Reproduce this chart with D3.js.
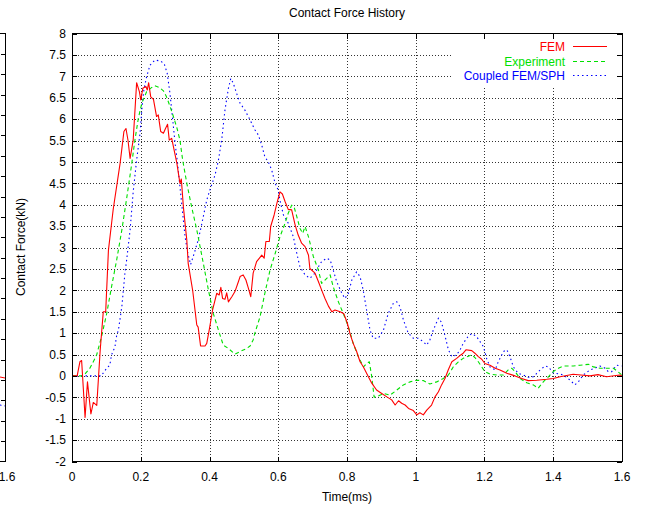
<!DOCTYPE html>
<html>
<head>
<meta charset="utf-8">
<script src="https://cdn.jsdelivr.net/npm/d3@7"></script>
<style>
  html, body { margin: 0; padding: 0; background: #fff; }
  svg { display: block; }
  text { font-family: "Liberation Sans", Arial, Helvetica, sans-serif; }
</style>
</head>
<body>
<svg id="chart" width="648" height="506"></svg>
<script>
// ---------- DATA ----------
const chartTitle = "Contact Force History";
const xLabel = "Time(ms)";
const yLabel = "Contact Force(kN)";
const xTicks = [0, 0.2, 0.4, 0.6, 0.8, 1, 1.2, 1.4, 1.6];
const yTicks = [-2, -1.5, -1, -0.5, 0, 0.5, 1, 1.5, 2, 2.5, 3, 3.5, 4, 4.5, 5, 5.5, 6, 6.5, 7, 7.5, 8];
const seriesNames = ["FEM", "Experiment", "Coupled FEM/SPH"];

const femTime = [0,0.015,0.023,0.028,0.038,0.045,0.055,0.062,0.072,0.082,0.091,0.098,0.106,0.12,0.14,0.151,0.157,0.163,0.169,0.178,0.188,0.196,0.2,0.206,0.215,0.219,0.223,0.229,0.237,0.246,0.251,0.258,0.266,0.272,0.278,0.283,0.29,0.305,0.314,0.318,0.324,0.334,0.338,0.351,0.363,0.367,0.374,0.387,0.392,0.4,0.409,0.421,0.428,0.433,0.438,0.445,0.45,0.455,0.465,0.474,0.484,0.489,0.498,0.506,0.513,0.52,0.527,0.537,0.547,0.552,0.559,0.564,0.574,0.578,0.588,0.596,0.605,0.612,0.62,0.629,0.639,0.649,0.658,0.668,0.678,0.688,0.692,0.707,0.717,0.726,0.736,0.746,0.756,0.765,0.78,0.791,0.801,0.809,0.818,0.828,0.838,0.847,0.857,0.872,0.886,0.901,0.916,0.93,0.94,0.95,0.959,0.969,0.979,0.993,1.003,1.012,1.022,1.032,1.046,1.056,1.066,1.075,1.085,1.095,1.105,1.119,1.131,1.138,1.146,1.163,1.172,1.182,1.192,1.201,1.216,1.231,1.245,1.265,1.289,1.308,1.327,1.352,1.381,1.4,1.42,1.458,1.48,1.507,1.53,1.555,1.594,1.6];
const femForce = [0,0,0.33,0.36,-0.97,-0.14,-0.89,-0.62,-0.69,0.6,1.5,1.5,2.94,3.9,4.97,5.71,5.78,5.5,5.08,5.51,6.85,6.64,6.45,6.72,6.76,6.68,6.85,6.52,6.46,6.06,6.1,5.71,5.67,5.78,5.88,5.51,5.55,4.97,4.5,4.6,3.95,3.17,2.63,2.0,1.19,1.14,0.7,0.7,0.76,1.11,1.54,1.93,1.89,2.07,1.81,1.79,1.94,1.73,1.85,1.97,2.2,2.32,2.36,2.24,2.05,1.85,2.4,2.67,2.77,2.82,2.75,3.14,3.14,3.49,3.76,4.03,4.3,4.25,4.07,3.89,3.88,3.53,3.29,3.1,3.02,2.82,2.51,2.4,2.2,2.01,1.81,1.63,1.5,1.54,1.5,1.45,1.23,0.98,0.76,0.57,0.33,0.22,0.06,-0.17,-0.33,-0.41,-0.49,-0.56,-0.68,-0.58,-0.64,-0.68,-0.76,-0.81,-0.91,-0.86,-0.91,-0.8,-0.68,-0.49,-0.37,-0.21,-0.06,0.15,0.33,0.41,0.49,0.53,0.61,0.59,0.53,0.45,0.39,0.29,0.25,0.18,0.14,0.06,0,-0.06,-0.11,-0.1,-0.08,-0.06,-0.02,0.04,0.02,0,0.03,-0.02,0.02,0];

const expTime = [0,0.033,0.052,0.067,0.072,0.086,0.101,0.115,0.13,0.145,0.16,0.174,0.183,0.193,0.203,0.217,0.232,0.241,0.254,0.266,0.275,0.285,0.295,0.305,0.314,0.322,0.334,0.348,0.363,0.367,0.382,0.397,0.411,0.426,0.44,0.455,0.474,0.489,0.508,0.518,0.527,0.532,0.547,0.561,0.576,0.591,0.605,0.62,0.629,0.639,0.646,0.654,0.663,0.671,0.678,0.688,0.702,0.717,0.726,0.736,0.751,0.76,0.775,0.789,0.804,0.818,0.833,0.848,0.857,0.865,0.872,0.879,0.891,0.906,0.925,0.945,0.964,0.983,1.003,1.022,1.041,1.061,1.08,1.095,1.109,1.124,1.138,1.153,1.163,1.172,1.182,1.192,1.201,1.216,1.236,1.255,1.269,1.279,1.289,1.303,1.323,1.342,1.356,1.371,1.386,1.4,1.415,1.43,1.458,1.478,1.502,1.517,1.536,1.575,1.6];
const expForce = [0,0,0.18,0.41,0.5,0.92,1.46,2.08,2.71,3.41,4.2,4.97,5.51,6.02,6.37,6.64,6.74,6.78,6.74,6.66,6.52,6.3,6.06,5.8,5.51,5.04,4.5,3.95,3.41,3.25,2.63,2.0,1.46,1.07,0.72,0.64,0.51,0.57,0.64,0.7,0.84,1.0,1.38,1.93,2.47,2.86,3.25,3.57,3.8,3.99,3.95,3.72,3.45,3.33,3.49,3.25,2.79,2.47,2.16,2.24,2.36,2.08,1.73,1.46,1.15,0.76,0.45,0.21,0.29,0.33,-0.02,-0.5,-0.47,-0.41,-0.45,-0.33,-0.21,-0.14,-0.1,-0.11,-0.19,-0.14,-0.06,0.02,0.21,0.33,0.41,0.46,0.49,0.43,0.33,0.21,0.1,0.04,0.02,0.02,0.14,0.18,0.1,-0.06,-0.16,-0.21,-0.29,-0.14,-0.02,0.1,0.18,0.23,0.23,0.25,0.27,0.21,0.18,0.18,0.02];

const sphTime = [0,0.085,0.101,0.11,0.115,0.125,0.13,0.135,0.145,0.154,0.159,0.169,0.178,0.188,0.198,0.203,0.209,0.217,0.227,0.241,0.256,0.268,0.277,0.285,0.293,0.3,0.307,0.316,0.324,0.329,0.336,0.345,0.355,0.367,0.377,0.392,0.401,0.416,0.426,0.436,0.445,0.455,0.462,0.469,0.479,0.489,0.503,0.518,0.532,0.542,0.552,0.561,0.571,0.581,0.591,0.6,0.605,0.615,0.629,0.644,0.654,0.663,0.678,0.692,0.707,0.717,0.726,0.741,0.751,0.76,0.77,0.785,0.794,0.804,0.814,0.828,0.838,0.847,0.857,0.867,0.876,0.891,0.906,0.92,0.935,0.945,0.954,0.964,0.978,0.993,1.007,1.022,1.032,1.041,1.051,1.066,1.075,1.085,1.095,1.105,1.119,1.129,1.138,1.153,1.163,1.177,1.187,1.197,1.206,1.216,1.231,1.24,1.255,1.265,1.274,1.284,1.298,1.313,1.327,1.342,1.352,1.362,1.376,1.386,1.4,1.415,1.43,1.449,1.463,1.473,1.487,1.507,1.521,1.536,1.551,1.56,1.57,1.584,1.599];
const sphForce = [0,0,0.18,0.25,0.49,0.68,0.95,1.07,1.62,2.4,2.71,3.41,4.3,5.04,5.67,6.21,6.68,6.99,7.26,7.38,7.36,7.3,7.07,6.6,5.98,5.43,4.97,4.27,3.64,3.25,2.9,2.6,2.85,3.17,3.53,4.11,4.34,4.69,5.04,5.55,6.21,6.72,6.95,6.84,6.6,6.37,6.21,5.98,5.75,5.63,5.39,5.12,5.0,4.81,4.5,4.34,4.1,3.76,3.57,3.25,2.86,2.55,2.36,2.28,2.4,2.55,2.67,2.75,2.71,2.47,2.2,1.93,1.81,1.93,2.24,2.43,2.32,2.01,1.54,1.07,0.88,0.88,1.07,1.46,1.7,1.73,1.62,1.31,1.0,0.88,0.88,0.8,0.72,0.84,1.07,1.35,1.25,0.94,0.61,0.45,0.49,0.61,0.76,0.93,0.99,0.92,0.8,0.68,0.41,0.21,0.14,0.33,0.57,0.61,0.45,0.21,0.06,0.02,-0.03,-0.02,0.06,0.14,0.23,0.21,0.07,0.05,0.02,-0.1,-0.21,-0.14,0.02,0.14,0.18,0.23,0.18,0.1,0.1,0.25,0.23];

// fragment of neighbouring chart at left edge
const fragTickCount = 21;
const fragLabel = "1.6";

// ---------- LAYOUT ----------
const svg = d3.select("#chart");
const L = 72, R = 622, T = 33.5, B = 461.5;
const x = d3.scaleLinear().domain([0, 1.6]).range([L, R]);
const y = d3.scaleLinear().domain([-2, 8]).range([B, T]);

const colors = ["#ff0000", "#00e000", "#0000ff"];
const dashes = [null, "4,3", "1.5,3"];

// ---------- GRID ----------
const grid = svg.append("g").attr("stroke", "#333").attr("stroke-width", 1)
  .attr("stroke-dasharray", "1,2").attr("shape-rendering", "crispEdges");
xTicks.slice(1, -1).forEach(v => {
  grid.append("line").attr("x1", Math.round(x(v)) + 0.5).attr("x2", Math.round(x(v)) + 0.5)
    .attr("y1", T).attr("y2", B);
});
yTicks.slice(1, -1).forEach(v => {
  grid.append("line").attr("y1", Math.round(y(v)) + 0.5).attr("y2", Math.round(y(v)) + 0.5)
    .attr("x1", L).attr("x2", R);
});

// ---------- SERIES ----------
const line = d3.line().x(d => x(d[0])).y(d => y(d[1]));
const series = [
  d3.zip(femTime, femForce),
  d3.zip(expTime, expForce),
  d3.zip(sphTime, sphForce)
];
const drawOrder = [2, 1, 0];
drawOrder.forEach(i => {
  svg.append("path").datum(series[i]).attr("d", line)
    .attr("fill", "none").attr("stroke", colors[i]).attr("stroke-width", 1.1)
    .attr("stroke-dasharray", dashes[i]).attr("stroke-linejoin", "round");
});

// ---------- LEGEND ----------
svg.append("rect").attr("x", 453).attr("y", T + 1).attr("width", R - 453 - 1).attr("height", 86 - T - 1).attr("fill", "#fff");
const legY = [46.5, 61.5, 75.5];
seriesNames.forEach((n, i) => {
  svg.append("text").attr("x", 565).attr("y", legY[i]).attr("dy", "0.35em")
    .attr("text-anchor", "end").attr("font-size", 12).attr("fill", colors[i]).text(n);
  svg.append("line").attr("x1", 573).attr("x2", 607).attr("y1", legY[i]).attr("y2", legY[i])
    .attr("stroke", colors[i]).attr("stroke-width", 1.1).attr("stroke-dasharray", dashes[i]);
});

// ---------- AXES / BORDER ----------
const ax = svg.append("g").attr("stroke", "#000").attr("stroke-width", 1).attr("shape-rendering", "crispEdges");
ax.append("rect").attr("x", L).attr("y", T).attr("width", R - L).attr("height", B - T).attr("fill", "none");
const tl = 5;
xTicks.forEach(v => {
  const px = Math.round(x(v)) + 0.5;
  ax.append("line").attr("x1", px).attr("x2", px).attr("y1", B).attr("y2", B - tl);
  ax.append("line").attr("x1", px).attr("x2", px).attr("y1", T).attr("y2", T + tl);
});
yTicks.forEach(v => {
  const py = Math.round(y(v)) + 0.5;
  ax.append("line").attr("x1", L).attr("x2", L + tl).attr("y1", py).attr("y2", py);
  ax.append("line").attr("x1", R).attr("x2", R - tl).attr("y1", py).attr("y2", py);
});

const fmt = v => String(v);
svg.append("g").selectAll("text").data(xTicks).join("text")
  .attr("x", d => x(d)).attr("y", 477).attr("dy", "0.35em")
  .attr("text-anchor", "middle").attr("font-size", 12).attr("fill", "#000").text(fmt);
svg.append("g").selectAll("text").data(yTicks).join("text")
  .attr("x", 66).attr("y", d => y(d)).attr("dy", "0.35em")
  .attr("text-anchor", "end").attr("font-size", 12).attr("fill", "#000").text(fmt);

svg.append("text").attr("x", 347).attr("y", 13).attr("dy", "0.35em").attr("text-anchor", "middle")
  .attr("font-size", 12).text(chartTitle);
svg.append("text").attr("x", 347).attr("y", 497).attr("dy", "0.35em").attr("text-anchor", "middle")
  .attr("font-size", 12).text(xLabel);
svg.append("text").attr("transform", "translate(21,247) rotate(-90)").attr("dy", "0.35em")
  .attr("text-anchor", "middle").attr("font-size", 12).text(yLabel);

// ---------- LEFT FRAGMENT (neighbouring chart) ----------
const fy = d3.scaleLinear().domain([0, fragTickCount]).range([T, B]);
const fg = svg.append("g").attr("stroke", "#000").attr("shape-rendering", "crispEdges");
fg.append("line").attr("x1", 5.5).attr("x2", 5.5).attr("y1", T).attr("y2", B);
fg.append("line").attr("x1", 0).attr("x2", 5.5).attr("y1", T).attr("y2", T);
fg.append("line").attr("x1", 0).attr("x2", 5.5).attr("y1", B).attr("y2", B);
d3.range(1, fragTickCount).forEach(i => {
  const py = Math.round(fy(i)) + 0.5;
  fg.append("line").attr("x1", 1).attr("x2", 5.5).attr("y1", py).attr("y2", py);
});
svg.append("line").attr("x1", 0).attr("x2", 5).attr("y1", 377).attr("y2", 378).attr("stroke", "#ff0000");
svg.append("line").attr("x1", 0).attr("x2", 5).attr("y1", 405).attr("y2", 406).attr("stroke", "#0000ff").attr("stroke-dasharray", "1.5,3");
svg.append("text").attr("x", 7).attr("y", 477).attr("dy", "0.35em").attr("text-anchor", "middle")
  .attr("font-size", 12).text(fragLabel);
</script>
</body>
</html>
